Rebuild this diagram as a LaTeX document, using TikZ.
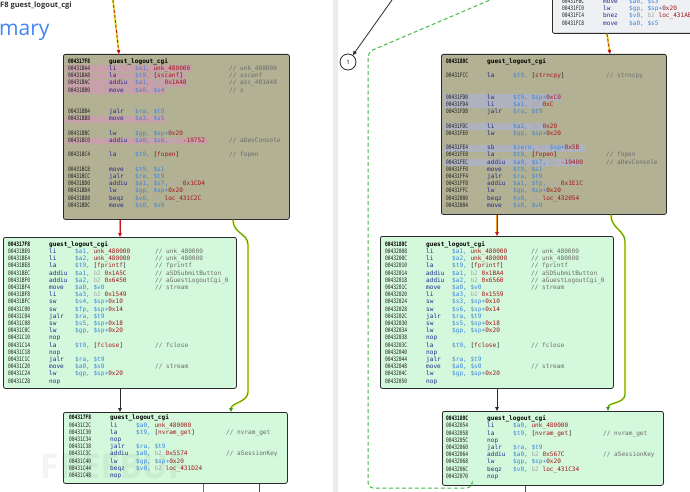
\documentclass[tikz,border=0pt]{standalone}
\usepackage{fontspec}
\usepackage{graphicx}
\usetikzlibrary{arrows.meta, positioning}
\newfontfamily\asmfamily{DejaVu Sans Mono}
\newfontfamily\uifamily{Open Sans}
\definecolor{idaolive}{HTML}{B2B194}
\definecolor{idagreen}{HTML}{D3F8DB}
\definecolor{idalight}{HTML}{EEF0F4}
\definecolor{idaedge}{HTML}{2B2B2B}
\definecolor{idaaddr}{HTML}{222222}
\definecolor{idamnem}{HTML}{1F2A8C}
\definecolor{idareg}{HTML}{3A84E0}
\definecolor{idaname}{HTML}{A3171B}
\definecolor{idacmt}{HTML}{6B6B6B}
\definecolor{idafaint}{HTML}{A8A8A8}
\definecolor{idapink}{HTML}{C7A1A9}
\definecolor{idagraybl}{HTML}{AEB2BE}
\definecolor{idared}{HTML}{C0161C}
\definecolor{idaorange}{HTML}{F0A020}
\definecolor{idayellow}{HTML}{E8E23C}
\definecolor{idagreenln}{HTML}{3C9A1E}
\definecolor{idadash}{HTML}{48B84E}
\definecolor{pageblue}{HTML}{4285F4}
\tikzset{
  asmbox/.style={
    rectangle,
    rounded corners=2pt,
    draw=idaedge,
    line width=0.8pt,
    anchor=north west,
    inner sep=0pt
  },
  olivebox/.style={asmbox, fill=idaolive},
  greenbox/.style={asmbox, fill=idagreen},
  lightbox/.style={asmbox, fill=idalight},
  asmtext/.style={
    anchor=west,
    inner sep=0pt,
    font=\asmfamily\fontsize{6.1}{7.2}\selectfont,
    text height=4.4pt,
    text depth=1.2pt
  },
  redflow/.style={
    draw=idared,
    line width=0.8pt,
    -{Triangle[length=4pt,width=3.6pt]},
    preaction={draw=idaorange, line width=2pt, -, shorten >=3pt}
  },
  greenflow/.style={
    draw=idagreenln,
    line width=0.8pt,
    -{Triangle[length=4pt,width=3.6pt]},
    preaction={draw=idayellow, line width=2pt, -, shorten >=3pt}
  },
  entryflow/.style={
    draw=idared,
    line width=0.8pt,
    dash pattern=on 3pt off 2pt,
    -{Triangle[length=4pt,width=3.6pt]},
    preaction={draw=idayellow, line width=2pt, solid, -, shorten >=3pt}
  },
  plainflow/.style={
    draw=idaedge,
    line width=0.8pt,
    -{Triangle[length=4pt,width=3.6pt]}
  },
  backflow/.style={
    draw=idadash,
    line width=1pt,
    dash pattern=on 4pt off 2.5pt,
    rounded corners=5pt
  },
  exitline/.style={line width=0.8pt}
}
% operand colouring
\newcommand{\opnum}[1]{\textcolor{idaname}{#1}}
\newcommand{\opdim}[1]{\textcolor{idafaint}{#1}}
\newcommand{\opbr}[1]{\textcolor{idaaddr}{#1}}
% one listing row: row, address, mnemonic, operands, comment
\newcommand{\asmrow}[5]{%
  \node[asmtext, text=idaaddr] (\bn-r#1-addr) at ({\bx+5},{\by+7.2*#1}) {\scalebox{0.75}[1]{#2}};
  \node[asmtext, text=idamnem] (\bn-r#1-mnem) at ({\bx+46},{\by+7.2*#1}) {#3};
  \node[asmtext, text=idareg] (\bn-r#1-ops) at ({\bx+72},{\by+7.2*#1}) {#4};
  \node[asmtext, text=idacmt] (\bn-r#1-cmt) at ({\bx+\cx},{\by+7.2*#1}) {#5};
}
\newcommand{\asmhead}[2]{%
  \node[asmtext, text=black, font=\asmfamily\bfseries\fontsize{6.1}{7.2}\selectfont] (\bn-head-addr) at ({\bx+5},\by) {\scalebox{0.75}[1]{#1}};
  \node[asmtext, text=black, font=\asmfamily\bfseries\fontsize{6.1}{7.2}\selectfont] (\bn-head-name) at ({\bx+46},\by) {#2};
}
% highlight band behind a row: row, width, colour
\newcommand{\asmmark}[3]{%
  \fill[#3] ({\bx+3},{\by+7.2*#1-3.4}) rectangle ++(#2,6.8);
}

\begin{document}
\begin{tikzpicture}[x=1pt, y=-1pt]
    \useasboundingbox (0,0) rectangle (690,492);
    \clip (0,0) rectangle (690,492);
    \fill[white] (0,0) rectangle (690,492);

    % page texts of the left shot
    \node[anchor=west, inner sep=0pt, text=black!80, font=\uifamily\bfseries\fontsize{7.5}{9}\selectfont] (pagetitle) at (0,6) {F8 guest\_logout\_cgi};
    \node[anchor=base west, inner sep=0pt, text=pageblue, font=\uifamily\fontsize{21}{24}\selectfont] (pagehead) at (-1,36) {mary};
    \fill[black!8] (333,0) rectangle (338,492);

    % blocks
    \node[olivebox, minimum width=226pt, minimum height=165pt] (blkA) at (63,54) {};
    \node[greenbox, minimum width=233pt, minimum height=151pt] (blkB) at (3,237) {};
    \node[greenbox, minimum width=224pt, minimum height=71pt] (blkC) at (63,412) {};
    \node[lightbox, minimum width=150pt, minimum height=39pt] (blkTop) at (552,-6) {};
    \node[olivebox, minimum width=225pt, minimum height=160pt] (blkD) at (441,54) {};
    \node[greenbox, minimum width=233pt, minimum height=152pt] (blkE) at (380,236) {};
    \node[greenbox, minimum width=221pt, minimum height=74pt] (blkF) at (442,411) {};

    % block A
    \def\bn{blkA}\def\bx{63}\def\by{61.7}\def\cx{166}
    \asmmark{1}{126}{idapink}
    \asmmark{2}{119}{idapink}
    \asmmark{3}{122}{idapink}
    \asmmark{4}{99}{idapink}
    \asmmark{8}{99}{idapink}
    \asmmark{11}{141}{idapink}
    \asmhead{004317F8}{guest\_logout\_cgi}
    \asmrow{1}{00431BA4}{li}{\$a1, \opnum{unk\_480000}}{// unk\_480000}
    \asmrow{2}{00431BA8}{la}{\$t9, \opbr{[}\opnum{sscanf}\opbr{]}}{// sscanf}
    \asmrow{3}{00431BAC}{addiu}{\$a1, \opdim{b2} \opnum{0x1A48}}{// asc\_481A48}
    \asmrow{4}{00431BB0}{move}{\$a0, \$s4}{// s}
    \asmrow{7}{00431BB4}{jalr}{\$ra, \$t9}{}
    \asmrow{8}{00431BB8}{move}{\$a3, \$s5}{}
    \asmrow{10}{00431BBC}{lw}{\$gp, \$sp+\opnum{0x20}}{}
    \asmrow{11}{00431BC0}{addiu}{\$a0, \$s6, \opdim{b2} \opnum{-19752}}{// aDevConsole}
    \asmrow{13}{00431BC4}{la}{\$t9, \opbr{[}\opnum{fopen}\opbr{]}}{// fopen}
    \asmrow{15}{00431BC8}{move}{\$t9, \$s1}{}
    \asmrow{16}{00431BCC}{jalr}{\$ra, \$t9}{}
    \asmrow{17}{00431BD0}{addiu}{\$a1, \$s7, \opdim{b2} \opnum{0x1CD4}}{}
    \asmrow{18}{00431BD4}{lw}{\$gp, \$sp+\opnum{0x20}}{}
    \asmrow{19}{00431BD8}{beqz}{\$v0, \opdim{b2} \opnum{loc\_431C2C}}{}
    \asmrow{20}{00431BDC}{move}{\$s0, \$v0}{}

    % block B
    \def\bn{blkB}\def\bx{3}\def\by{244.7}\def\cx{152}
    \asmhead{004317F8}{guest\_logout\_cgi}
    \asmrow{1}{00431BE0}{li}{\$a1, \opnum{unk\_480000}}{// unk\_480000}
    \asmrow{2}{00431BE4}{li}{\$a2, \opnum{unk\_480000}}{// unk\_480000}
    \asmrow{3}{00431BE8}{la}{\$t9, \opbr{[}\opnum{fprintf}\opbr{]}}{// fprintf}
    \asmrow{4}{00431BEC}{addiu}{\$a1, \opdim{b2} \opnum{0x1A5C}}{// aSDSubmitButton}
    \asmrow{5}{00431BF0}{addiu}{\$a2, \opdim{b2} \opnum{0x6450}}{// aGuestLogoutCgi\_0}
    \asmrow{6}{00431BF4}{move}{\$a0, \$v0}{// stream}
    \asmrow{7}{00431BF8}{li}{\$a3, \opdim{b2} \opnum{0x1549}}{}
    \asmrow{8}{00431BFC}{sw}{\$s4, \$sp+\opnum{0x10}}{}
    \asmrow{9}{00431C00}{sw}{\$fp, \$sp+\opnum{0x14}}{}
    \asmrow{10}{00431C04}{jalr}{\$ra, \$t9}{}
    \asmrow{11}{00431C08}{sw}{\$s5, \$sp+\opnum{0x18}}{}
    \asmrow{12}{00431C0C}{lw}{\$gp, \$sp+\opnum{0x20}}{}
    \asmrow{13}{00431C10}{nop}{}{}
    \asmrow{14}{00431C14}{la}{\$t9, \opbr{[}\opnum{fclose}\opbr{]}}{// fclose}
    \asmrow{15}{00431C18}{nop}{}{}
    \asmrow{16}{00431C1C}{jalr}{\$ra, \$t9}{}
    \asmrow{17}{00431C20}{move}{\$a0, \$s0}{// stream}
    \asmrow{18}{00431C24}{lw}{\$gp, \$sp+\opnum{0x20}}{}
    \asmrow{19}{00431C28}{nop}{}{}

    % block C
    \def\bn{blkC}\def\bx{64}\def\by{418.3}\def\cx{162}
    \node[anchor=west, inner sep=0pt, text=black, opacity=0.045, font=\uifamily\bfseries\fontsize{34}{36}\selectfont] (watermark) at (40,467) {FREEBUF};
    \asmhead{004317F8}{guest\_logout\_cgi}
    \asmrow{1}{00431C2C}{li}{\$a0, \opnum{unk\_480000}}{}
    \asmrow{2}{00431C30}{la}{\$t9, \opbr{[}\opnum{nvram\_get}\opbr{]}}{// nvram\_get}
    \asmrow{3}{00431C34}{nop}{}{}
    \asmrow{4}{00431C38}{jalr}{\$ra, \$t9}{}
    \asmrow{5}{00431C3C}{addiu}{\$a0, \opdim{b2} \opnum{0x5574}}{// aSessionKey}
    \asmrow{6}{00431C40}{lw}{\$gp, \$sp+\opnum{0x20}}{}
    \asmrow{7}{00431C44}{beqz}{\$v0, \opdim{b2} \opnum{loc\_431D24}}{}
    \asmrow{8}{00431C48}{nop}{}{}

    % block above D
    \def\bn{blkTop}\def\bx{557}\def\by{2}\def\cx{150}
    \asmrow{0}{00431FBC}{move}{\$a0, \$s3}{}
    \asmrow{1}{00431FC0}{lw}{\$gp, \$sp+\opnum{0x20}}{}
    \asmrow{2}{00431FC4}{bnez}{\$v0, \opdim{b2} \opnum{loc\_431AB0}}{}
    \asmrow{3}{00431FC8}{move}{\$a0, \$s5}{}

    % block D
    \def\bn{blkD}\def\bx{441}\def\by{61.7}\def\cx{165}
    \asmmark{5}{117}{idagraybl}
    \asmmark{6}{100}{idagraybl}
    \asmmark{9}{102}{idagraybl}
    \asmmark{12}{142}{idagraybl}
    \asmmark{14}{138}{idagraybl}
    \asmhead{0043180C}{guest\_logout\_cgi}
    \asmrow{2}{00431FCC}{la}{\$t9, \opbr{[}\opnum{strncpy}\opbr{]}}{// strncpy}
    \asmrow{5}{00431FD0}{lw}{\$t9, \$sp+\opnum{0xC0}}{}
    \asmrow{6}{00431FD4}{li}{\$a1, \opdim{b2} \opnum{0xC}}{}
    \asmrow{7}{00431FD8}{jalr}{\$ra, \$t9}{}
    \asmrow{9}{00431FDC}{li}{\$a2, \opdim{b2} \opnum{0x20}}{}
    \asmrow{10}{00431FE0}{lw}{\$gp, \$sp+\opnum{0x20}}{}
    \asmrow{12}{00431FE4}{sb}{\$zero, \opdim{b2} \$sp+\opnum{0x5B}}{}
    \asmrow{13}{00431FE8}{la}{\$t9, \opbr{[}\opnum{fopen}\opbr{]}}{// fopen}
    \asmrow{14}{00431FEC}{addiu}{\$a0, \$s7, \opdim{b2} \opnum{-19400}}{// aDevConsole}
    \asmrow{15}{00431FF0}{move}{\$t9, \$s1}{}
    \asmrow{16}{00431FF4}{jalr}{\$ra, \$t9}{}
    \asmrow{17}{00431FF8}{addiu}{\$a1, \$fp, \opdim{b2} \opnum{0x1E1C}}{}
    \asmrow{18}{00431FFC}{lw}{\$gp, \$sp+\opnum{0x20}}{}
    \asmrow{19}{00432000}{beqz}{\$v0, \opdim{b2} \opnum{loc\_432054}}{}
    \asmrow{20}{00432004}{move}{\$s0, \$v0}{}

    % block E
    \def\bn{blkE}\def\bx{380}\def\by{244.7}\def\cx{151}
    \asmhead{0043180C}{guest\_logout\_cgi}
    \asmrow{1}{00432008}{li}{\$a1, \opnum{unk\_480000}}{// unk\_480000}
    \asmrow{2}{0043200C}{li}{\$a2, \opnum{unk\_480000}}{// unk\_480000}
    \asmrow{3}{00432010}{la}{\$t9, \opbr{[}\opnum{fprintf}\opbr{]}}{// fprintf}
    \asmrow{4}{00432014}{addiu}{\$a1, \opdim{b2} \opnum{0x1BA4}}{// aSDSubmitButton}
    \asmrow{5}{00432018}{addiu}{\$a2, \opdim{b2} \opnum{0x6560}}{// aGuestLogoutCgi\_0}
    \asmrow{6}{0043201C}{move}{\$a0, \$v0}{// stream}
    \asmrow{7}{00432020}{li}{\$a3, \opdim{b2} \opnum{0x1559}}{}
    \asmrow{8}{00432024}{sw}{\$s3, \$sp+\opnum{0x10}}{}
    \asmrow{9}{00432028}{sw}{\$s6, \$sp+\opnum{0x14}}{}
    \asmrow{10}{0043202C}{jalr}{\$ra, \$t9}{}
    \asmrow{11}{00432030}{sw}{\$s5, \$sp+\opnum{0x18}}{}
    \asmrow{12}{00432034}{lw}{\$gp, \$sp+\opnum{0x20}}{}
    \asmrow{13}{00432038}{nop}{}{}
    \asmrow{14}{0043203C}{la}{\$t9, \opbr{[}\opnum{fclose}\opbr{]}}{// fclose}
    \asmrow{15}{00432040}{nop}{}{}
    \asmrow{16}{00432044}{jalr}{\$ra, \$t9}{}
    \asmrow{17}{00432048}{move}{\$a0, \$s0}{// stream}
    \asmrow{18}{0043204C}{lw}{\$gp, \$sp+\opnum{0x20}}{}
    \asmrow{19}{00432050}{nop}{}{}

    % block F
    \def\bn{blkF}\def\bx{441}\def\by{419}\def\cx{162}
    \asmhead{0043180C}{guest\_logout\_cgi}
    \asmrow{1}{00432054}{li}{\$a0, \opnum{unk\_480000}}{}
    \asmrow{2}{00432058}{la}{\$t9, \opbr{[}\opnum{nvram\_get}\opbr{]}}{// nvram\_get}
    \asmrow{3}{0043205C}{nop}{}{}
    \asmrow{4}{00432060}{jalr}{\$ra, \$t9}{}
    \asmrow{5}{00432064}{addiu}{\$a0, \opdim{b2} \opnum{0x567C}}{// aSessionKey}
    \asmrow{6}{00432068}{lw}{\$gp, \$sp+\opnum{0x20}}{}
    \asmrow{7}{0043206C}{beqz}{\$v0, \opdim{b2} \opnum{loc\_431C34}}{}
    \asmrow{8}{00432070}{nop}{}{}

    % jump marker
    \node[circle, draw=idaedge, line width=0.8pt, fill=white, minimum size=16pt, inner sep=0pt, font=\uifamily\fontsize{6}{7}\selectfont] (jump1) at (348,62) {1};

    % free ends
    \coordinate (entryA) at (113,0);
    \coordinate (jumpIn) at (392,0);
    \coordinate (backEnd) at (490,0);
    \coordinate (exitC1) at (203,492);
    \coordinate (exitC2) at (259,492);
    \coordinate (exitF) at (525,492);

    % left graph
    \draw[entryflow] (entryA) -- ([xshift=56pt]blkA.north west);
    \draw[redflow] ([xshift=57pt]blkA.south west) -- ([xshift=117pt]blkB.north west);
    \draw[greenflow] ([xshift=170pt]blkA.south west) .. controls +(0,14) and +(0,-12) .. (248,245) -- (248,392) .. controls +(0,10) and +(0,-9) .. ([xshift=168pt]blkC.north west);
    \draw[plainflow] ([xshift=117pt]blkB.south west) -- ([xshift=57pt]blkC.north west);
    \draw[exitline, idagreenln] (blkC.south -| exitC1) -- (exitC1);
    \draw[exitline, idared] (blkC.south -| exitC2) -- (exitC2);

    % right graph
    \draw[plainflow] (jumpIn) -- (jump1);
    \draw[backflow] ([xshift=30pt]blkF.south west) |- (368,488) -- (368,52) -- (backEnd);
    \draw[entryflow] ([xshift=55pt]blkTop.south west) -- ([xshift=169pt]blkD.north west);
    \draw[redflow] ([xshift=56pt]blkD.south west) -- ([xshift=117pt]blkE.north west);
    \draw[greenflow] ([xshift=170pt]blkD.south west) .. controls +(0,14) and +(0,-12) .. (625,242) -- (625,394) .. controls +(0,10) and +(0,-9) .. ([xshift=166pt]blkF.north west);
    \draw[plainflow] ([xshift=117pt]blkE.south west) -- ([xshift=55pt]blkF.north west);
    \draw[exitline, idared] (blkF.south -| exitF) -- (exitF);
\end{tikzpicture}
\end{document}
